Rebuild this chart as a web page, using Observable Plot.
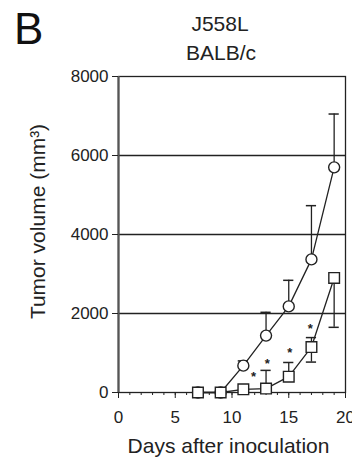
<!DOCTYPE html>
<html><head><meta charset="utf-8">
<script src="https://cdn.jsdelivr.net/npm/d3@7"></script>
<script src="https://cdn.jsdelivr.net/npm/@observablehq/plot@0.6"></script>
<style>
body{margin:0;background:#fff;font-family:"Liberation Sans",Arial,sans-serif;color:#222}
#wrap{position:relative;width:352px;height:459px;overflow:hidden}
#head{position:relative;height:60px}
.t{position:absolute;line-height:1;white-space:nowrap}
#B{left:14px;top:7px;font-size:44px;color:#111}
#t1{left:220px;top:13px;font-size:21px;transform:translateX(-50%)}
#t2{left:221px;top:42px;font-size:21px;transform:translateX(-50%)}
svg{display:block}
</style></head><body>
<div id="wrap"><div id="head"><div id="B" class="t"></div><div id="t1" class="t"></div><div id="t2" class="t"></div></div><div id="chart"></div></div>
<script>
const panelLabel = "B";
const titleLines = ["J558L", "BALB/c"];
const xLabel = "Days after inoculation";
const yLabel = "Tumor volume (mm³)";
const xTicks = [0, 5, 10, 15, 20];
const xMinorTicks = [0,1,2,3,4,5,6,7,8,9,10,11,12,13,14,15,16,17,18,19,20];
const yTicks = [0, 2000, 4000, 6000, 8000];
const days = [7, 9, 11, 13, 15, 17, 19];
const controlMean = [0, 0, 680, 1440, 2180, 3370, 5700];
const controlUpper = [null, null, 800, 2030, 2840, 4730, 7050];
const treatedMean = [0, 0, 80, 100, 400, 1150, 2900];
const treatedUpper = [null, null, null, 560, 760, 1390, null];
const treatedLower = [null, null, null, null, null, 770, 1650];
const starDays = [11.9, 13.1, 15.1, 16.9];
const starValues = [400, 720, 1010, 1620];

document.getElementById("B").textContent = panelLabel;
document.getElementById("t1").textContent = titleLines[0];
document.getElementById("t2").textContent = titleLines[1];

const ctrl = days.map((d, i) => ({day: d, v: controlMean[i], hi: controlUpper[i]}));
const trt = days.map((d, i) => ({day: d, v: treatedMean[i], hi: treatedUpper[i], lo: treatedLower[i]}));
const ctrlErr = ctrl.filter(d => d.hi != null);
const trtUp = trt.filter(d => d.hi != null);
const trtLo = trt.filter(d => d.lo != null);
const stars = starDays.map((d, i) => ({day: d, v: starValues[i]}));
const ink = "#222";
const capHalf = 0.45;

const chart = Plot.plot({
  width: 352, height: 399,
  marginTop: 16, marginBottom: 67, marginLeft: 118, marginRight: 7,
  style: {fontFamily: "Liberation Sans, Arial, sans-serif", fontSize: "17px", color: ink, background: "#fff"},
  x: {domain: [0, 20]},
  y: {domain: [0, 8000]},
  marks: [
    Plot.gridY(yTicks.slice(1, -1), {stroke: ink, strokeOpacity: 1, strokeWidth: 1.3}),
    Plot.frame({stroke: ink, strokeWidth: 1.3}),
    Plot.ruleX([0], {stroke: "#555", strokeWidth: 2.2}),
    Plot.axisX(xMinorTicks, {tickSize: 3, tickFormat: () => "", label: null, stroke: ink}),
    Plot.axisX(xTicks, {tickSize: 6, tickPadding: 12, label: null, stroke: ink, fontSize: 17}),
    Plot.axisY(yTicks, {tickSize: 6, tickPadding: 4, label: null, stroke: ink, fontSize: 17, tickFormat: d3.format("d")}),
    Plot.text([yLabel], {frameAnchor: "left", textAnchor: "middle", lineAnchor: "middle", rotate: -90, dx: -80, dy: -13, fontSize: 21, fill: ink}),
    Plot.text([xLabel], {frameAnchor: "bottom", textAnchor: "middle", lineAnchor: "middle", dx: -3.5, dy: 54, fontSize: 21, fill: ink}),
    // error bars
    Plot.ruleX(ctrlErr, {x: "day", y1: "v", y2: "hi", stroke: ink, strokeWidth: 1.3}),
    Plot.ruleY(ctrlErr, {y: "hi", x1: d => d.day - capHalf, x2: d => d.day + capHalf, stroke: ink, strokeWidth: 1.5}),
    Plot.ruleX(trtUp, {x: "day", y1: "v", y2: "hi", stroke: ink, strokeWidth: 1.3}),
    Plot.ruleY(trtUp, {y: "hi", x1: d => d.day - capHalf, x2: d => d.day + capHalf, stroke: ink, strokeWidth: 1.5}),
    Plot.ruleX(trtLo, {x: "day", y1: "v", y2: "lo", stroke: ink, strokeWidth: 1.3}),
    Plot.ruleY(trtLo, {y: "lo", x1: d => d.day - capHalf, x2: d => d.day + capHalf, stroke: ink, strokeWidth: 1.5}),
    // lines
    Plot.line(ctrl, {x: "day", y: "v", stroke: ink, strokeWidth: 1.3}),
    Plot.line(trt, {x: "day", y: "v", stroke: ink, strokeWidth: 1.3}),
    // markers
    Plot.dot(ctrl, {x: "day", y: "v", r: 5.5, fill: "white", stroke: ink, strokeWidth: 1.4}),
    Plot.dot(trt, {x: "day", y: "v", symbol: "square", r: 6, fill: "white", stroke: ink, strokeWidth: 1.4}),
    Plot.text(stars, {x: "day", y: "v", text: () => "*", fontSize: 13, fontWeight: "bold", fill: ink, lineAnchor: "middle"})
  ]
});
document.getElementById("chart").appendChild(chart);
</script>
</body></html>
